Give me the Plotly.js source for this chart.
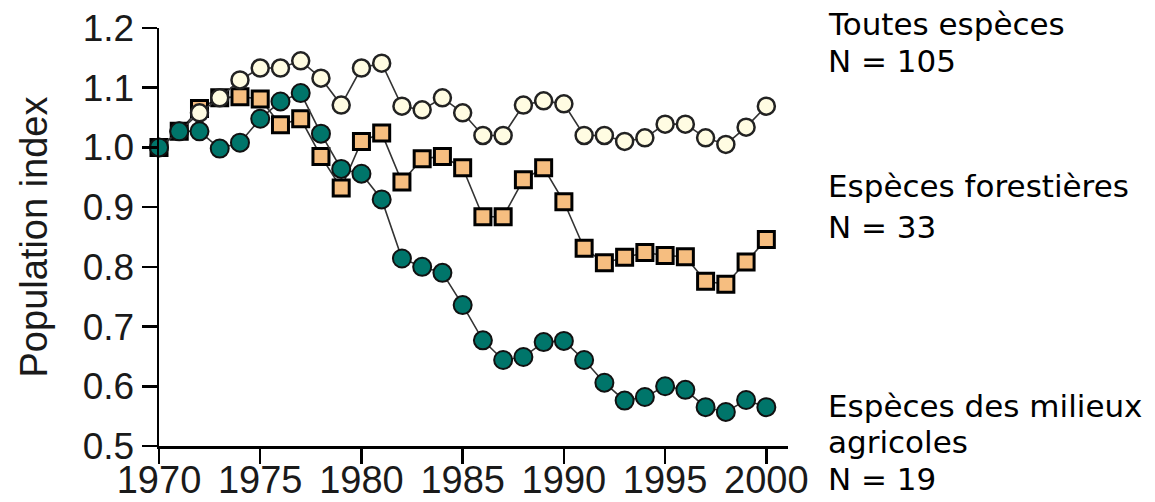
<!DOCTYPE html>
<html>
<head>
<meta charset="utf-8">
<script src="https://cdn.plot.ly/plotly-3.0.1.min.js"></script>
<style>
  html, body { margin: 0; padding: 0; background: #ffffff; }
  #chart { width: 1155px; height: 502px; }
</style>
</head>
<body>
<div id="chart"></div>
<script>
// ---- Data ----
const years = [1970,1971,1972,1973,1974,1975,1976,1977,1978,1979,
               1980,1981,1982,1983,1984,1985,1986,1987,1988,1989,
               1990,1991,1992,1993,1994,1995,1996,1997,1998,1999,2000];

const toutesEspeces = [1.000,1.027,1.058,1.083,1.113,1.133,1.133,1.145,1.116,1.071,
                       1.133,1.141,1.069,1.063,1.083,1.058,1.020,1.020,1.071,1.078,
                       1.073,1.020,1.020,1.010,1.016,1.039,1.039,1.016,1.005,1.034,1.069];

const especesForestieres = [1.000,1.027,1.065,1.083,1.085,1.081,1.038,1.048,0.985,0.932,
                            1.010,1.024,0.942,0.981,0.985,0.966,0.884,0.884,0.946,0.966,
                            0.909,0.831,0.807,0.816,0.824,0.819,0.817,0.776,0.771,0.808,0.846];

const especesAgricoles = [1.000,1.027,1.027,0.998,1.008,1.048,1.077,1.091,1.023,0.964,
                          0.956,0.913,0.814,0.800,0.790,0.736,0.677,0.644,0.649,0.674,
                          0.676,0.644,0.606,0.576,0.582,0.600,0.594,0.565,0.557,0.577,0.565];

const xTickVals = [1970,1975,1980,1985,1990,1995,2000];
const yTickVals = [0.5,0.6,0.7,0.8,0.9,1.0,1.1,1.2];

const labelLines = [
  ["Toutes espèces", "N = 105"],
  ["Espèces forestières", "N = 33"],
  ["Espèces des milieux", "agricoles", "N = 19"]
];
const yTitle = "Population index";

// ---- Traces ----
const lineStyle = {color: '#333333', width: 1.6};

const traceForest = {
  x: years, y: especesForestieres, type: 'scatter', mode: 'lines+markers',
  name: labelLines[1].join(' '), cliponaxis: false,
  line: lineStyle,
  marker: {symbol: 'square', size: 16, color: '#F6BE80', line: {color: '#000000', width: 3}}
};
const traceAll = {
  x: years, y: toutesEspeces, type: 'scatter', mode: 'lines+markers',
  name: labelLines[0].join(' '), cliponaxis: false,
  line: lineStyle,
  marker: {symbol: 'circle', size: 17, color: '#FFFCE2', line: {color: '#222222', width: 2.5}}
};
const traceAgri = {
  x: years, y: especesAgricoles, type: 'scatter', mode: 'lines+markers',
  name: labelLines[2].join(' '), cliponaxis: false,
  line: lineStyle,
  marker: {symbol: 'circle', size: 18, color: '#00756A', line: {color: '#111111', width: 2}}
};

// ---- Right-side labels (one annotation per line) ----
const labelYs = [[1.0091, 0.9204], [0.6213, 0.5233], [0.0963, 0.0084, -0.0793]];
const annotations = [];
labelLines.forEach((lines, i) => {
  lines.forEach((txt, j) => {
    annotations.push({
      text: txt, xref: 'paper', yref: 'paper',
      x: 1.0604, y: labelYs[i][j], xanchor: 'left', yanchor: 'middle',
      showarrow: false, align: 'left',
      font: {family: 'DejaVu Sans, Verdana, sans-serif', size: 31, color: '#000000'}
    });
  });
});

const layout = {
  width: 1155, height: 502,
  margin: {l: 159, r: 367, t: 28, b: 55.5, pad: 0, autoexpand: false},
  paper_bgcolor: '#ffffff', plot_bgcolor: '#ffffff',
  showlegend: false,
  font: {family: 'Liberation Sans, Arial, sans-serif', color: '#1a1a1a'},
  xaxis: {
    range: [1970, 2001.07], tickvals: xTickVals, ticktext: xTickVals.map(String),
    showgrid: false, zeroline: false,
    showline: true, linecolor: '#000000', linewidth: 2.5,
    ticks: 'outside', ticklen: 15, tickwidth: 2.5, tickcolor: '#000000',
    tickfont: {size: 38, color: '#1a1a1a'},
    ticklabelstandoff: -16,
    fixedrange: true
  },
  yaxis: {
    range: [0.5, 1.2], tickvals: yTickVals, ticktext: yTickVals.map(v => v.toFixed(1)),
    showgrid: false, zeroline: false,
    showline: true, linecolor: '#000000', linewidth: 2.5,
    ticks: 'outside', ticklen: 15, tickwidth: 2.5, tickcolor: '#000000',
    tickfont: {size: 37, color: '#1a1a1a'},
    ticklabelstandoff: 0,
    automargin: 'left',
    title: {text: yTitle, font: {size: 38, color: '#1a1a1a'}, standoff: 24},
    fixedrange: true
  },
  annotations: annotations
};

Plotly.newPlot('chart', [traceForest, traceAll, traceAgri], layout, {displayModeBar: false, staticPlot: true});
</script>
</body>
</html>
